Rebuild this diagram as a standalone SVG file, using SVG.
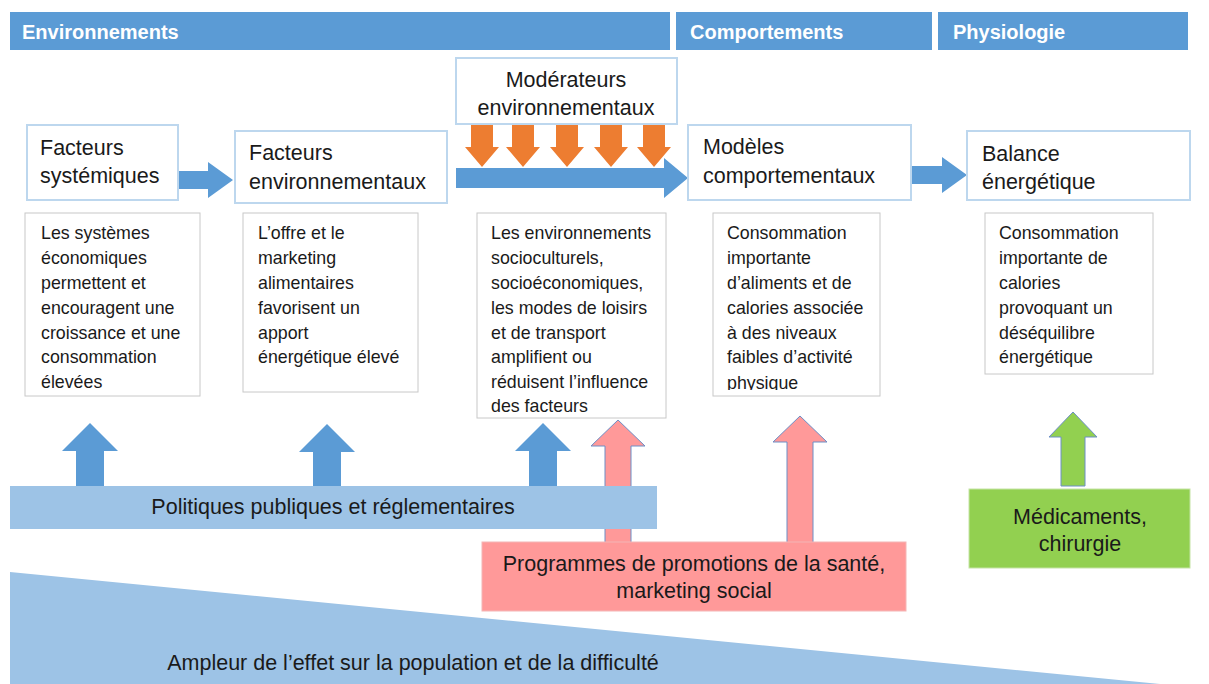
<svg xmlns="http://www.w3.org/2000/svg" width="1209" height="684" viewBox="0 0 1209 684">
<defs>
<style>
text{font-family:"Liberation Sans",Arial,sans-serif;fill:#1a1a1a}
.hdr{fill:#5b9bd5}
.htxt{fill:#fff;font-weight:bold;font-size:20px}
.node{fill:#fff;stroke:#bdd7ee;stroke-width:2}
.ntxt{font-size:21.5px}
.desc{fill:#fff;stroke:#c8c8c8;stroke-width:1}
.dtxt{font-size:17.8px}
.blue{fill:#5b9bd5}
.orange{fill:#ed7d31}
.pink{fill:#ff9999;stroke:#6d8fc7;stroke-width:1}
.green{fill:#92d050;stroke:#6d8fc7;stroke-width:1}
.lb{fill:#9dc3e6}
</style>
<clipPath id="c4"><rect x="713" y="213" width="167" height="177"/></clipPath>
</defs>
<rect width="1209" height="684" fill="#fff"/>
<g id="headers">
<rect class="hdr" x="10" y="12" width="660" height="38"/>
<text class="htxt" x="22" y="39">Environnements</text>
<rect class="hdr" x="676" y="12" width="256" height="38"/>
<text class="htxt" x="690" y="39">Comportements</text>
<rect class="hdr" x="938" y="12" width="250" height="38"/>
<text class="htxt" x="953" y="39">Physiologie</text>
</g>
<g id="connectors">
<polygon class="blue" points="176,171 208,171 208,162 233,180 208,198 208,189 176,189"/>
<polygon class="blue" points="456,168 664,168 664,158 688,178 664,198 664,188 456,188"/>
<polygon class="blue" points="911,166 942,166 942,157 967,175 942,193 942,184 911,184"/>
<g class="orange">
<polygon points="471,124 493,124 493,147 499,147 482,167 465,147 471,147"/>
<polygon points="512,124 534,124 534,147 540,147 523,167 506,147 512,147"/>
<polygon points="556,124 578,124 578,147 584,147 567,167 550,147 556,147"/>
<polygon points="600,124 622,124 622,147 628,147 611,167 594,147 600,147"/>
<polygon points="643,124 665,124 665,147 671,147 654,167 637,147 643,147"/>
</g>
<polygon class="blue" points="76,487 104,487 104,451 118,451 90,423 62,451 76,451"/>
<polygon class="blue" points="313,487 341,487 341,452 355,452 327,424 299,452 313,452"/>
<polygon class="blue" points="529,487 557,487 557,451 571,451 543,423 515,451 529,451"/>
<polygon class="pink" points="605,543 631,543 631,446 645,446 618,420 591,446 605,446"/>
<polygon class="pink" points="787,543 813,543 813,442 827,442 800,416 773,442 787,442"/>
<polygon class="green" points="1061,486 1085,486 1085,437 1097,437 1073,412 1049,437 1061,437"/>
</g>
<g id="n-facteurs-systemiques">
<rect class="node" x="27" y="125" width="151" height="75"/>
<text class="ntxt" x="40" y="155">Facteurs</text>
<text class="ntxt" x="40" y="183">systémiques</text>
</g>
<g id="n-facteurs-env">
<rect class="node" x="235" y="131" width="212" height="72"/>
<text class="ntxt" x="249" y="160">Facteurs</text>
<text class="ntxt" x="249" y="189">environnementaux</text>
</g>
<g id="n-moderateurs">
<rect class="node" x="456" y="58" width="221" height="66"/>
<text class="ntxt" x="566" y="87" text-anchor="middle">Modérateurs</text>
<text class="ntxt" x="566" y="115" text-anchor="middle">environnementaux</text>
</g>
<g id="n-modeles">
<rect class="node" x="688" y="125" width="223" height="75"/>
<text class="ntxt" x="703" y="154">Modèles</text>
<text class="ntxt" x="703" y="183">comportementaux</text>
</g>
<g id="n-balance">
<rect class="node" x="967" y="131" width="223" height="69"/>
<text class="ntxt" x="982" y="161">Balance</text>
<text class="ntxt" x="982" y="189">énergétique</text>
</g>
<g id="d1">
<rect class="desc" x="25" y="213" width="175" height="183"/>
<text class="dtxt" x="41" y="239">Les systèmes</text>
<text class="dtxt" x="41" y="264">économiques</text>
<text class="dtxt" x="41" y="289">permettent et</text>
<text class="dtxt" x="41" y="314">encouragent une</text>
<text class="dtxt" x="41" y="339">croissance et une</text>
<text class="dtxt" x="41" y="363">consommation</text>
<text class="dtxt" x="41" y="388">élevées</text>
</g>
<g id="d2">
<rect class="desc" x="243" y="213" width="175" height="179"/>
<text class="dtxt" x="258" y="239">L’offre et le</text>
<text class="dtxt" x="258" y="264">marketing</text>
<text class="dtxt" x="258" y="289">alimentaires</text>
<text class="dtxt" x="258" y="314">favorisent un</text>
<text class="dtxt" x="258" y="339">apport</text>
<text class="dtxt" x="258" y="363">énergétique élevé</text>
</g>
<g id="d3">
<rect class="desc" x="477" y="213" width="189" height="205"/>
<text class="dtxt" x="491" y="239">Les environnements</text>
<text class="dtxt" x="491" y="264">socioculturels,</text>
<text class="dtxt" x="491" y="289">socioéconomiques,</text>
<text class="dtxt" x="491" y="314">les modes de loisirs</text>
<text class="dtxt" x="491" y="339">et de transport</text>
<text class="dtxt" x="491" y="363">amplifient ou</text>
<text class="dtxt" x="491" y="388">réduisent l’influence</text>
<text class="dtxt" x="491" y="412">des facteurs</text>
</g>
<g id="d4">
<rect class="desc" x="713" y="213" width="167" height="183"/>
<g clip-path="url(#c4)">
<text class="dtxt" x="727" y="239">Consommation</text>
<text class="dtxt" x="727" y="264">importante</text>
<text class="dtxt" x="727" y="289">d’aliments et de</text>
<text class="dtxt" x="727" y="314">calories associée</text>
<text class="dtxt" x="727" y="339">à des niveaux</text>
<text class="dtxt" x="727" y="363">faibles d’activité</text>
<text class="dtxt" x="727" y="389">physique</text>
</g>
</g>
<g id="d5">
<rect class="desc" x="985" y="213" width="168" height="161"/>
<text class="dtxt" x="999" y="239">Consommation</text>
<text class="dtxt" x="999" y="264">importante de</text>
<text class="dtxt" x="999" y="289">calories</text>
<text class="dtxt" x="999" y="314">provoquant un</text>
<text class="dtxt" x="999" y="339">déséquilibre</text>
<text class="dtxt" x="999" y="363">énergétique</text>
</g>
<g id="n-politiques">
<rect class="lb" x="10" y="486" width="647" height="43"/>
<text class="ntxt" x="333" y="514" text-anchor="middle">Politiques publiques et réglementaires</text>
</g>
<g id="n-programmes">
<rect x="482" y="542" width="424" height="69" fill="#ff9999" stroke="#f4b6b6" stroke-width="1"/>
<text class="ntxt" x="694" y="571" text-anchor="middle">Programmes de promotions de la santé,</text>
<text class="ntxt" x="694" y="598" text-anchor="middle">marketing social</text>
</g>
<g id="n-medicaments">
<rect x="969" y="489" width="221" height="79" fill="#92d050" stroke="#c5e4a6" stroke-width="1"/>
<text class="ntxt" x="1080" y="524" text-anchor="middle">Médicaments,</text>
<text class="ntxt" x="1080" y="551" text-anchor="middle">chirurgie</text>
</g>
<g id="n-ampleur">
<polygon class="lb" points="10,572 1160,684 10,684"/>
<text class="ntxt" x="413" y="670" text-anchor="middle">Ampleur de l’effet sur la population et de la difficulté</text>
</g>
</svg>
